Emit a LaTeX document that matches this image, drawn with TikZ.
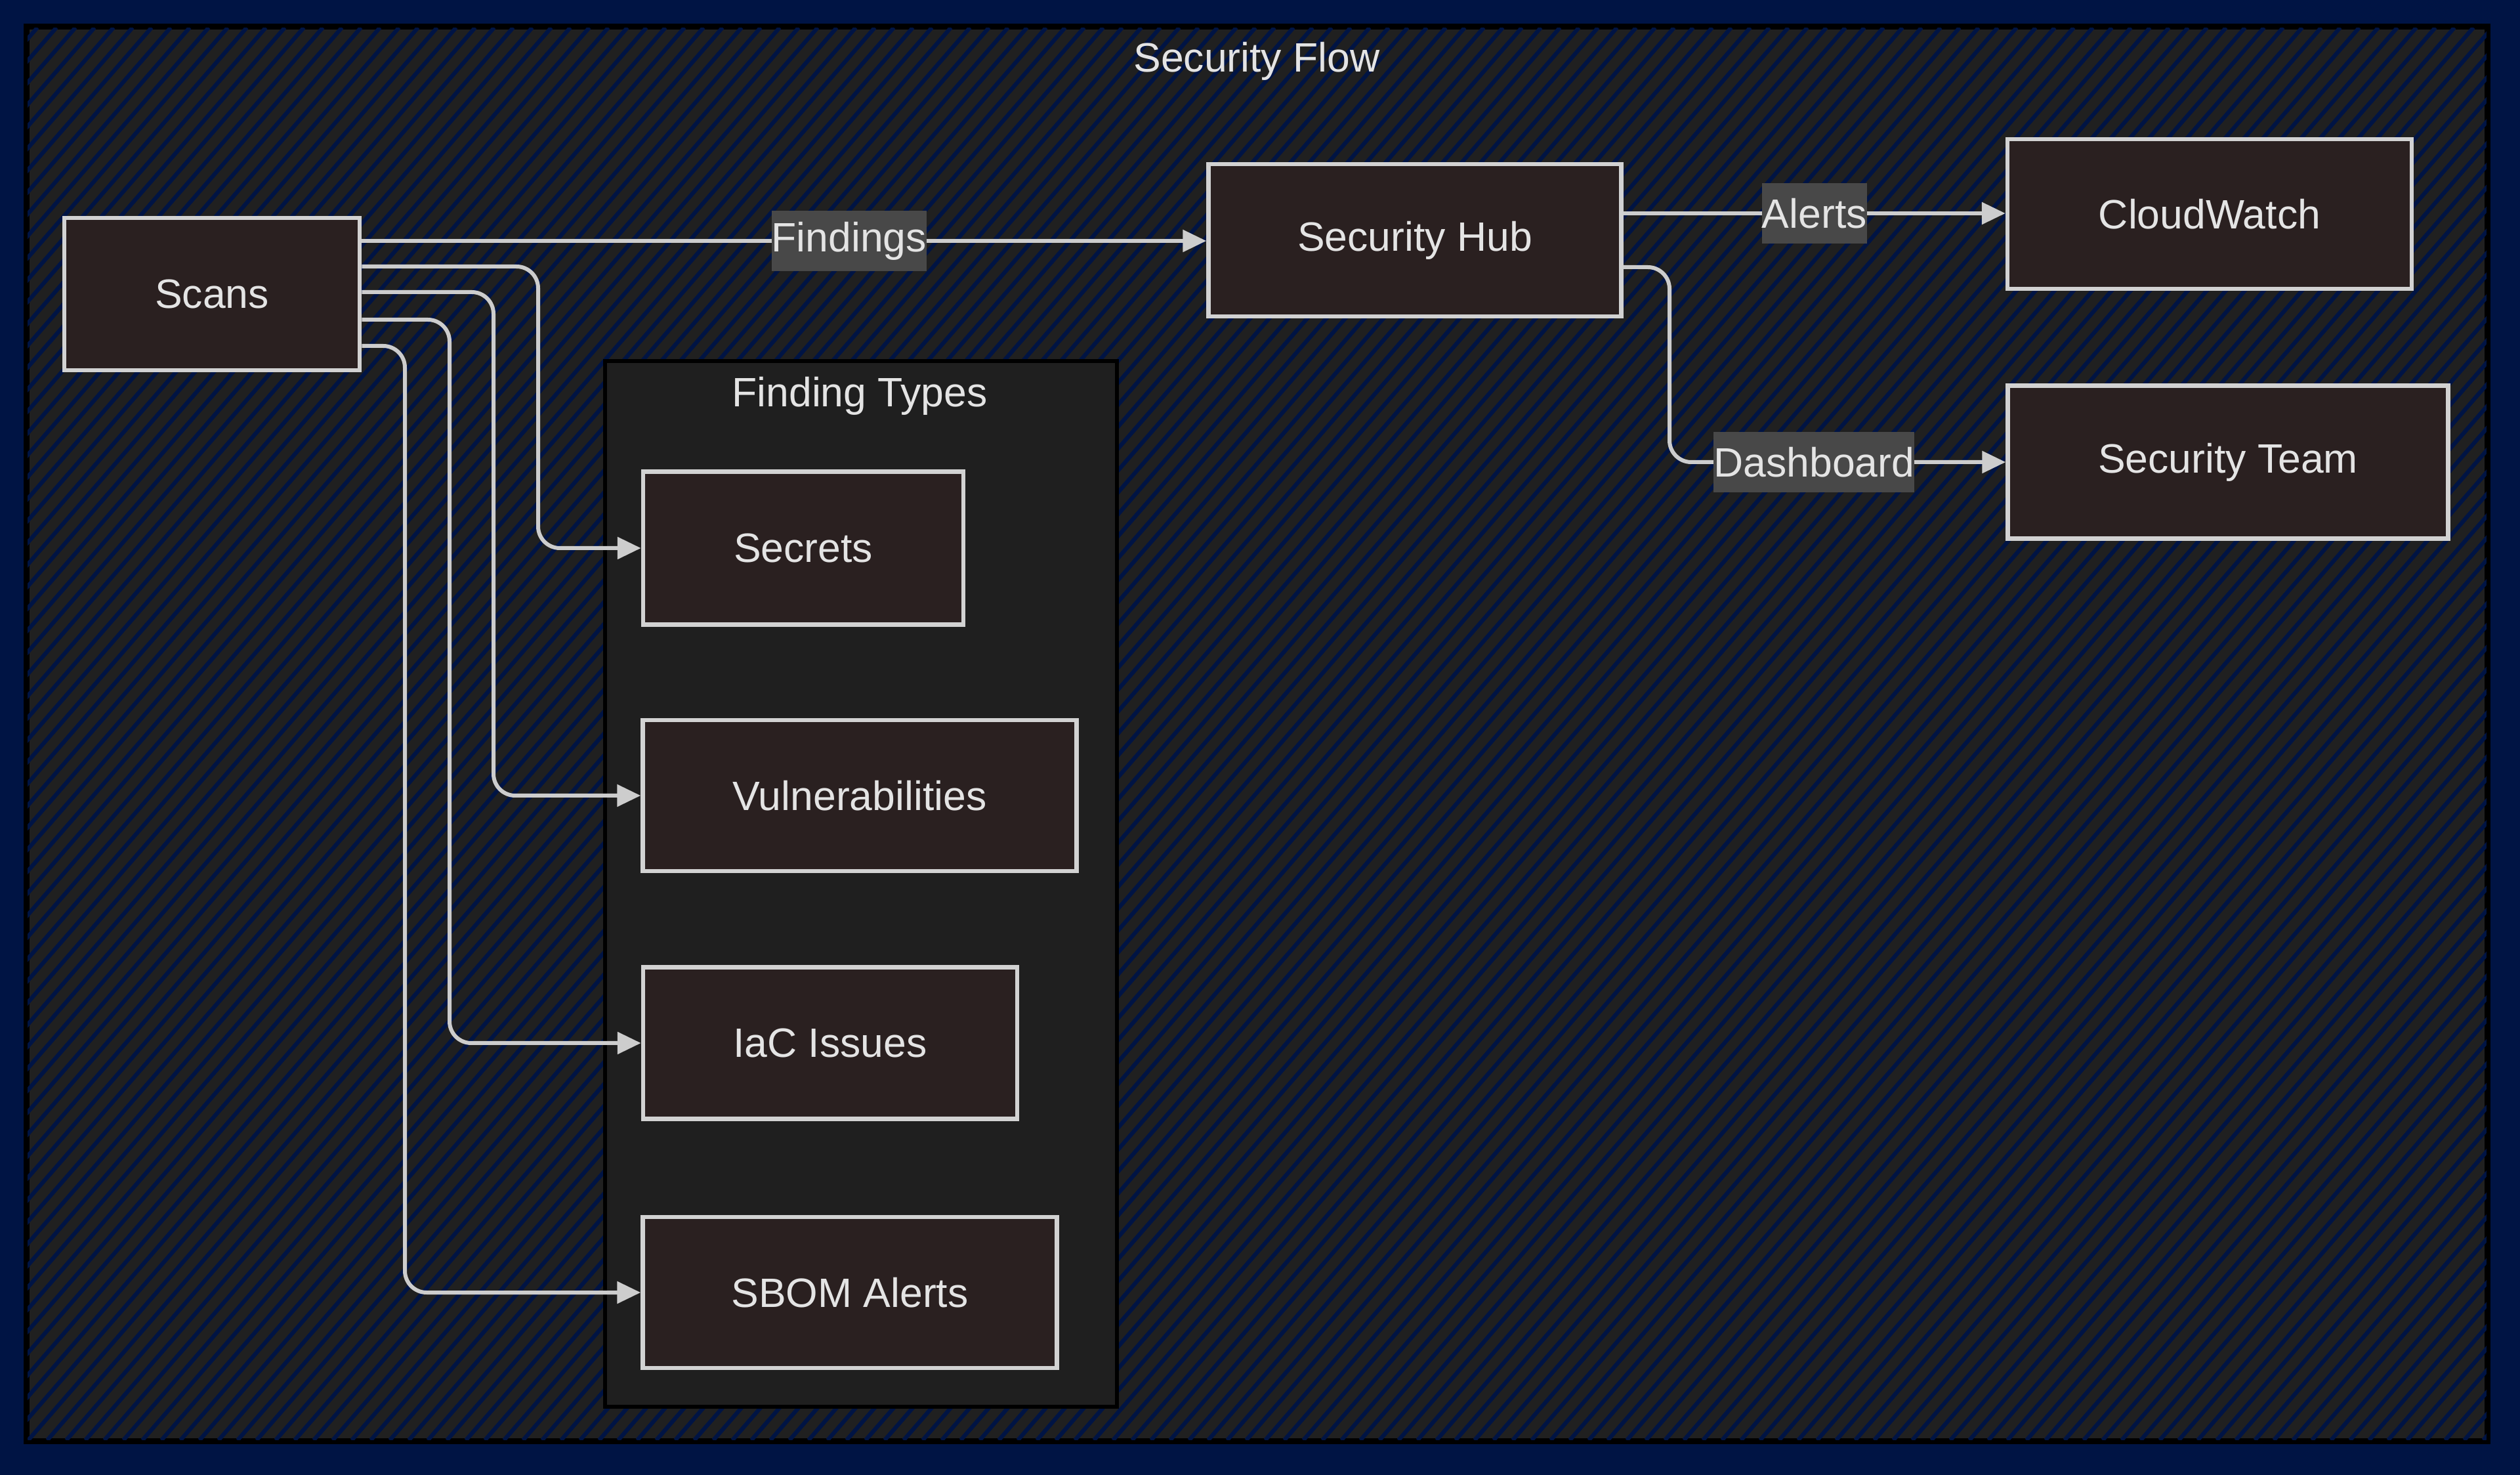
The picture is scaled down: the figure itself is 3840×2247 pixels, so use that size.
\documentclass[tikz,border=0pt]{standalone}
\usepackage{fontspec}
\setmainfont{Liberation Sans}
\usetikzlibrary{arrows.meta}
\definecolor{navy}{RGB}{0,20,68}
\definecolor{panel}{RGB}{32,32,32}
\definecolor{innerpanel}{RGB}{31,31,31}
\definecolor{boxfill}{RGB}{42,32,32}
\definecolor{boxline}{RGB}{210,210,210}
\definecolor{txt}{RGB}{228,228,228}
\definecolor{edgec}{RGB}{205,205,205}
\definecolor{lblbg}{RGB}{72,72,72}
\newcommand\dfont{\fontsize{12.5pt}{15pt}\selectfont}
\tikzset{
  box/.style={draw=boxline, fill=boxfill, line width=1.3pt, text=txt, font=\dfont, inner sep=0pt, minimum height=46.4pt},
  edge/.style={draw=edgec, line width=1.2pt, -{Triangle[length=7.2pt,width=6.6pt]}, rounded corners=6.6pt},
  lbl/.style={sharp corners, fill=lblbg, text=txt, font=\dfont, inner xsep=0pt, inner ysep=0pt, minimum height=18.4pt},
  ttl/.style={text=txt, font=\dfont, inner sep=0pt},
  cluster/.style={draw=black, line width=1.2pt, inner sep=0pt},
  stripe/.style={draw=navy, line width=1.25pt}
}
\begin{document}
\begin{tikzpicture}[x=0.2pt,y=-0.2pt]
\useasboundingbox (0,0) rectangle (3840,2247);
\fill[navy] (0,0) rectangle (3840,2247);
% outer cluster
\node[cluster, fill=panel, minimum width=749.4pt, minimum height=430.4pt] (flow) at (1915.5,1118) {};
\begin{scope}
  \clip (42,42) rectangle (3789,2194);
  \foreach \a in {-1900,-1871,...,3840} {
    \draw[stripe] (\a,2194) -- ++(1870,-2152);
  }
\end{scope}
\draw[black, line width=1.2pt] (flow.north west) rectangle (flow.south east);
\node[ttl] (flowtitle) at (1915,93) {Security Flow};
% inner cluster
\node[cluster, fill=innerpanel, minimum width=156pt, minimum height=318.6pt] (types) at (1312,1346.5) {};
\node[ttl] (typestitle) at (1310,603) {Finding Types};
% nodes
\node[box, minimum width=90pt] (scans) at (323,448) {Scans};
\node[box, minimum width=125.8pt] (hub) at (2156,366) {Security Hub};
\node[box, minimum width=123.2pt, minimum height=45.6pt] (cw) at (3367,326) {CloudWatch};
\node[box, minimum width=134.2pt, minimum height=46.6pt] (team) at (3395,704) {Security Team};
\node[box, minimum width=97.6pt, minimum height=46.6pt] (secrets) at (1224,835) {Secrets};
\node[box, minimum width=132.2pt, minimum height=46pt] (vuln) at (1310,1212) {Vulnerabilities};
\node[box, minimum width=114pt, minimum height=46.2pt] (iac) at (1265,1589) {IaC Issues};
\node[box, minimum width=126.2pt, minimum height=46pt] (sbom) at (1295,1969) {SBOM Alerts};
% routing coordinates
\coordinate (xsec) at (820,0);
\coordinate (xvul) at (752,0);
\coordinate (xiac) at (685,0);
\coordinate (xsbom) at (617,0);
\coordinate (xdash) at (2544,0);
% edges
\draw[edge] ([yshift=16.2pt]scans.east) -- ([yshift=16.2pt]scans.east -| hub.west)
  node[lbl, pos=0.577] (lfind) {Findings};
\draw[edge] ([yshift=8.4pt]scans.east) -| (xsec |- secrets.west) -- (secrets.west);
\draw[edge] ([yshift=0.6pt]scans.east) -| (xvul |- vuln.west) -- (vuln.west);
\draw[edge] ([yshift=-7.8pt]scans.east) -| (xiac |- iac.west) -- (iac.west);
\draw[edge] ([yshift=-15.8pt]scans.east) -| (xsbom |- sbom.west) -- (sbom.west);
\draw[edge] ([yshift=8.2pt]hub.east) -- ([yshift=8.2pt]hub.east -| cw.west)
  node[lbl, pos=0.5] (lalert) {Alerts};
\draw[edge] ([yshift=-8.2pt]hub.east) -| (xdash |- team.west) -- (team.west)
  node[lbl, pos=0.43] (ldash) {Dashboard};
\end{tikzpicture}
\end{document}
